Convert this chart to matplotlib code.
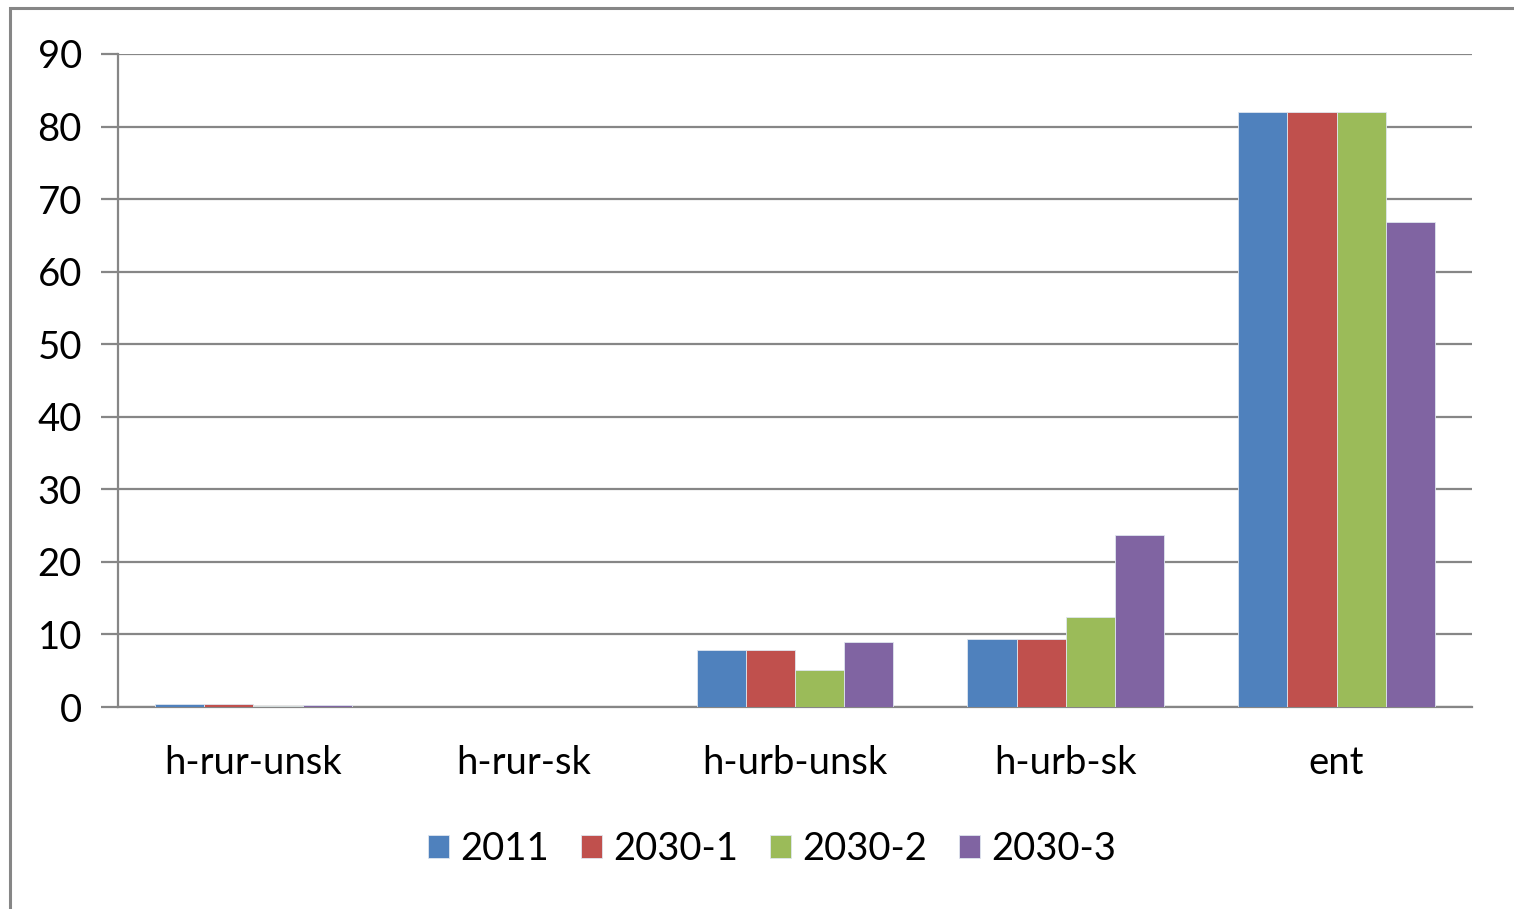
import numpy as np
import matplotlib.pyplot as plt
from matplotlib.patches import Rectangle

plt.rcParams['font.family'] = ['Lato', 'DejaVu Sans']

# data
categories = ["h-rur-unsk", "h-rur-sk", "h-urb-unsk", "h-urb-sk", "ent"]
series_names = ["2011", "2030-1", "2030-2", "2030-3"]
v2011 = [0.4, 0.02, 7.9, 9.4, 82.0]
v2030_1 = [0.4, 0.02, 7.9, 9.4, 82.0]
v2030_2 = [0.2, 0.02, 5.1, 12.4, 82.0]
v2030_3 = [0.3, 0.02, 8.9, 23.7, 66.8]
colors = ["#4F81BD", "#C0504D", "#9BBB59", "#8064A2"]
yticks = [0, 10, 20, 30, 40, 50, 60, 70, 80, 90]

values = [v2011, v2030_1, v2030_2, v2030_3]
FS = 27.5

fig = plt.figure(figsize=(15.14, 9.09), dpi=100)
ax = fig.add_axes([118 / 1514, 1 - 707 / 909, (1472 - 118) / 1514, (707 - 54) / 909])

x = np.arange(len(categories))
width = 4 / 5.5 / 4
for i, (name, vals) in enumerate(zip(series_names, values)):
    ax.bar(x + (i - 1.5) * width, vals, width, color=colors[i], label=name,
           edgecolor="#dfe6ef", linewidth=0.6, zorder=3)

ax.set_xlim(-0.5, len(categories) - 0.5)
ax.set_ylim(0, 90)
ax.set_yticks(yticks)
ax.set_xticks(x)
ax.set_xticklabels(categories)
ax.grid(axis="y", color="#868686", linewidth=1.6, zorder=0)
ax.set_axisbelow(True)

for side in ["top", "right"]:
    ax.spines[side].set_visible(False)
for side in ["left", "bottom"]:
    ax.spines[side].set_color("#868686")
    ax.spines[side].set_linewidth(1.6)

ax.tick_params(axis="y", length=12, width=1.6, color="#868686", labelsize=FS, pad=14)
ax.tick_params(axis="x", length=0, labelsize=FS, pad=27)

leg = fig.legend(loc="center", bbox_to_anchor=(772 / 1514, 1 - 849 / 909), ncol=4,
                 frameon=False, fontsize=FS, handlelength=0.55, handleheight=0.55,
                 handletextpad=0.28, columnspacing=0.85)

# outer chart border (left and top visible)
fig.patches.append(Rectangle((10 / 1514, -0.05), 1.1, 1 - 8 / 909 + 0.05,
                             transform=fig.transFigure, fill=False,
                             edgecolor="#868686", linewidth=2.2))

fig.savefig("out.png", dpi=100)
